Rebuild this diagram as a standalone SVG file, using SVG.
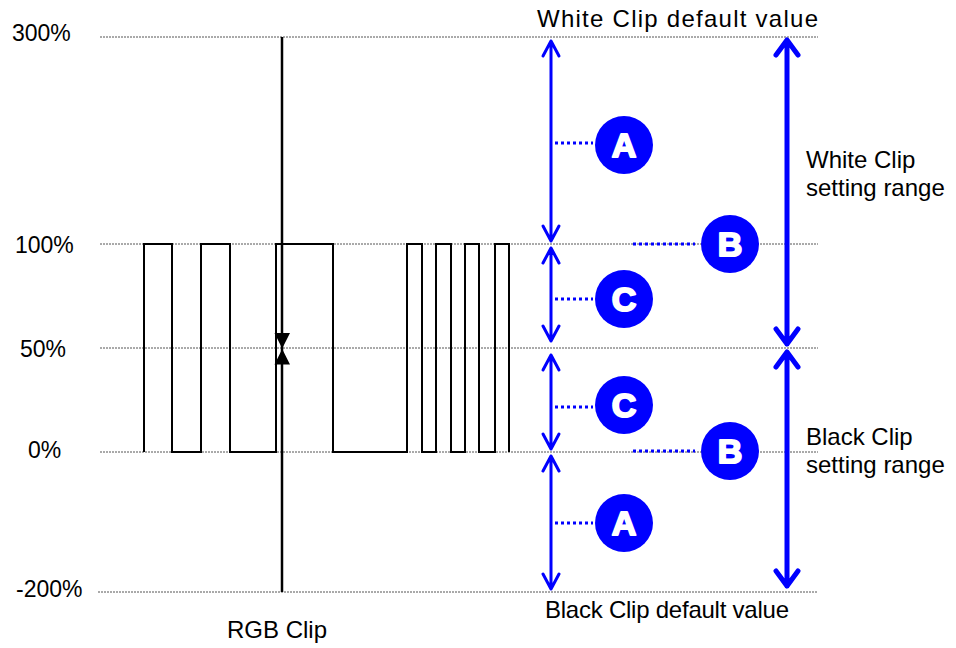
<svg xmlns="http://www.w3.org/2000/svg" width="956" height="648" viewBox="0 0 956 648">
<defs>
<style>
.grid{stroke:#555;stroke-width:1;stroke-dasharray:2 1;fill:none}
.wave{stroke:#000;stroke-width:2;fill:none}
.t{font-family:"Liberation Sans",Arial,sans-serif;font-size:24px;fill:#000}
.p{font-size:23px}
.thin{stroke:#0000ff;stroke-width:3;fill:none;stroke-linecap:round;stroke-linejoin:round}
.thick{stroke:#0000ff;stroke-width:5;fill:none;stroke-linecap:round;stroke-linejoin:round}
.dot{stroke:#0000ff;stroke-width:3;stroke-dasharray:3 3;fill:none}
.badge circle{fill:#0000ff}
.badge text{font-family:"Liberation Sans",Arial,sans-serif;font-weight:bold;font-size:34px;fill:#fff;stroke:#fff;stroke-width:2;stroke-linejoin:round;text-anchor:middle}
</style>
</defs>
<rect width="956" height="648" fill="#fff"/>
<g id="grid">
<line class="grid" x1="100" y1="37" x2="818" y2="37"/>
<line class="grid" x1="100" y1="244" x2="818" y2="244"/>
<line class="grid" x1="100" y1="348" x2="818" y2="348"/>
<line class="grid" x1="100" y1="452" x2="818" y2="452"/>
<line class="grid" x1="98" y1="592" x2="818" y2="592"/>
</g>
<g id="axis-labels" class="t p">
<text x="12" y="41">300%</text>
<text x="15" y="253">100%</text>
<text x="20" y="357">50%</text>
<text x="28" y="458">0%</text>
<text x="16" y="597">-200%</text>
</g>
<g id="waveform">
<path class="wave" d="M144 452V244H172V452H201V244H230V452H276V244H333V452H407V244H422V452H436V244H451V452H465V244H479V452H495V244H509V452"/>
</g>
<g id="rgb-clip">
<line x1="282" y1="37" x2="282" y2="592" stroke="#000" stroke-width="2.5"/>
<path d="M274.5 333H290L282.2 348.5Z M274.5 364.5H290L282.2 349Z" fill="#000"/>
<text class="t" x="227" y="638">RGB Clip</text>
</g>
<g id="connectors">
<path class="thin" d="M551 41V241M543 56L551 41L559 56M543 226L551 241L559 226"/>
<path class="thin" d="M551 248V341M543 263L551 248L559 263M543 326L551 341L559 326"/>
<path class="thin" d="M551 355V449M543 370L551 355L559 370M543 434L551 449L559 434"/>
<path class="thin" d="M551 456V589M543 471L551 456L559 471M543 574L551 589L559 574"/>
<path class="thick" d="M787 40V344M776 55L787 40L798 55M776 329L787 344L798 329"/>
<path class="thick" d="M787 352V586M776 367L787 352L798 367M776 571L787 586L798 571"/>
<line class="dot" x1="555" y1="143" x2="593" y2="143"/>
<line class="dot" x1="633" y1="244" x2="695" y2="244"/>
<line class="dot" x1="555" y1="299" x2="593" y2="299"/>
<line class="dot" x1="555" y1="407" x2="593" y2="407"/>
<line class="dot" x1="633" y1="451" x2="695" y2="451"/>
<line class="dot" x1="555" y1="523" x2="593" y2="523"/>
</g>
<g id="badge-A1" class="badge"><circle cx="624" cy="145" r="29"/><text x="624" y="157">A</text></g>
<g id="badge-B1" class="badge"><circle cx="730" cy="244" r="29"/><text x="730" y="256">B</text></g>
<g id="badge-C1" class="badge"><circle cx="624" cy="299" r="29"/><text x="624" y="311">C</text></g>
<g id="badge-C2" class="badge"><circle cx="624" cy="405" r="29"/><text x="624" y="417">C</text></g>
<g id="badge-B2" class="badge"><circle cx="730" cy="451" r="29"/><text x="730" y="463">B</text></g>
<g id="badge-A2" class="badge"><circle cx="624" cy="523" r="29"/><text x="624" y="535">A</text></g>
<g id="labels" class="t">
<text x="537" y="27" textLength="281" lengthAdjust="spacing">White Clip default value</text>
<text x="545" y="618" textLength="244" lengthAdjust="spacing">Black Clip default value</text>
<text x="806" y="168">White Clip</text>
<text x="806" y="196">setting range</text>
<text x="806" y="445">Black Clip</text>
<text x="806" y="473">setting range</text>
</g>
</svg>
